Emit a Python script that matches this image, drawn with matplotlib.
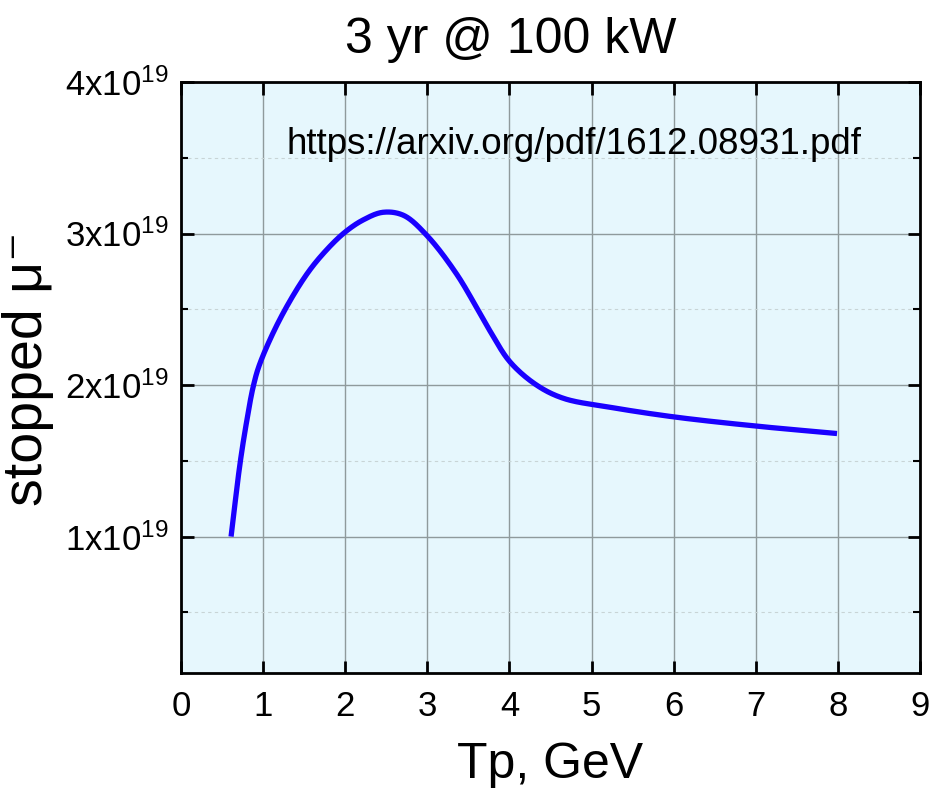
import numpy as np
import matplotlib
matplotlib.use("Agg")
import matplotlib.pyplot as plt
from matplotlib.ticker import FixedLocator, FuncFormatter, MultipleLocator

plt.rcParams['font.family'] = ['Liberation Sans', 'DejaVu Sans']
plt.rcParams['mathtext.default'] = 'regular'

# Data (stopped muons in units of 1e19 vs proton kinetic energy in GeV)
tp_gev = [0.61, 0.72, 0.80, 0.88, 0.96, 1.21, 1.53, 1.77, 2.00, 2.22, 2.46,
          2.71, 2.99, 3.36, 3.76, 4.007, 4.33, 4.66, 5.23, 6.00, 6.99, 7.99]
stopped_mu = [1.00, 1.485, 1.76, 1.99, 2.14, 2.44, 2.73, 2.89, 3.01, 3.09, 3.14,
              3.12, 2.99, 2.73, 2.36, 2.153, 2.00, 1.912, 1.853, 1.79, 1.73, 1.68]
stopped_mu = [v * 1e19 for v in stopped_mu]

x_ticks = [0, 1, 2, 3, 4, 5, 6, 7, 8, 9]
y_ticks = [1e19, 2e19, 3e19, 4e19]

title = "3 yr @ 100 kW"
xlabel = "Tp, GeV"
ylabel = "stopped \u03bc\u207b"
note = "https://arxiv.org/pdf/1612.08931.pdf"

XMIN, XMAX, YMIN, YMAX = 0, 9, 0.1e19, 4e19

def centripetal_cr(xp, yp, n=30):
    sx = 739.0 / (XMAX - XMIN)
    sy = 591.0 / (YMAX - YMIN)
    P = np.column_stack([np.asarray(xp) * sx, np.asarray(yp) * sy])
    P = np.vstack([2 * P[0] - P[1], P, 2 * P[-1] - P[-2]])
    out = []
    for i in range(1, len(P) - 2):
        p0, p1, p2, p3 = P[i - 1], P[i], P[i + 1], P[i + 2]
        a = 0.5
        t0 = 0.0
        t1 = t0 + np.linalg.norm(p1 - p0) ** a
        t2 = t1 + np.linalg.norm(p2 - p1) ** a
        t3 = t2 + np.linalg.norm(p3 - p2) ** a
        t = np.linspace(t1, t2, n, endpoint=False)[:, None]
        A1 = (t1 - t) / (t1 - t0) * p0 + (t - t0) / (t1 - t0) * p1
        A2 = (t2 - t) / (t2 - t1) * p1 + (t - t1) / (t2 - t1) * p2
        A3 = (t3 - t) / (t3 - t2) * p2 + (t - t2) / (t3 - t2) * p3
        B1 = (t2 - t) / (t2 - t0) * A1 + (t - t0) / (t2 - t0) * A2
        B2 = (t3 - t) / (t3 - t1) * A2 + (t - t1) / (t3 - t1) * A3
        C = (t2 - t) / (t2 - t1) * B1 + (t - t1) / (t2 - t1) * B2
        out.append(C)
    out.append(P[-2][None, :])
    out = np.vstack(out)
    return out[:, 0] / sx, out[:, 1] / sy

cx, cy = centripetal_cr(tp_gev, stopped_mu)

fig = plt.figure(figsize=(9.3, 7.92), dpi=100)
ax = fig.add_axes([0.1946, 0.1503, 0.7946, 0.7462])
ax.set_facecolor('#e6f7fd')

ax.plot(cx, cy, color='#1a00ff', lw=3.8, solid_capstyle='butt', zorder=3)

ax.set_xlim(XMIN, XMAX)
ax.set_ylim(YMIN, YMAX)
ax.xaxis.set_major_locator(FixedLocator(x_ticks))
ax.yaxis.set_major_locator(FixedLocator(y_ticks))
ax.yaxis.set_minor_locator(MultipleLocator(0.5e19))

def yfmt(v, pos):
    m = int(round(v / 1e19))
    return r"$%dx10^{19}$" % m
ax.yaxis.set_major_formatter(FuncFormatter(yfmt))

ax.tick_params(which='major', direction='in', length=9, width=2, top=True, right=True,
               labelsize=25, pad=9, color='black')
ax.tick_params(which='minor', direction='in', length=5, width=1.5, top=False, right=True,
               left=True)
ax.tick_params(axis='x', which='minor', bottom=False, top=False)
ax.tick_params(axis='x', which='major', pad=12)

ax.grid(which='major', color='#8f9a9c', lw=1.0, zorder=1)
ax.grid(which='minor', axis='y', color='#c8d4d6', lw=0.8, ls=(0, (3, 3)), zorder=1)
ax.set_axisbelow(True)

for s in ax.spines.values():
    s.set_linewidth(2)

fig.text(0.549, 0.949, title, fontsize=36, ha='center', va='center')
ax.set_xlabel(xlabel, fontsize=36, labelpad=14)
ax.set_ylabel(ylabel, fontsize=40)
ax.yaxis.set_label_coords(-0.172, 0.515)

ax.text(1.29, 3.59e19, note, fontsize=26.5, va='center', ha='left', zorder=4)

fig.savefig("out.png", dpi=100)
